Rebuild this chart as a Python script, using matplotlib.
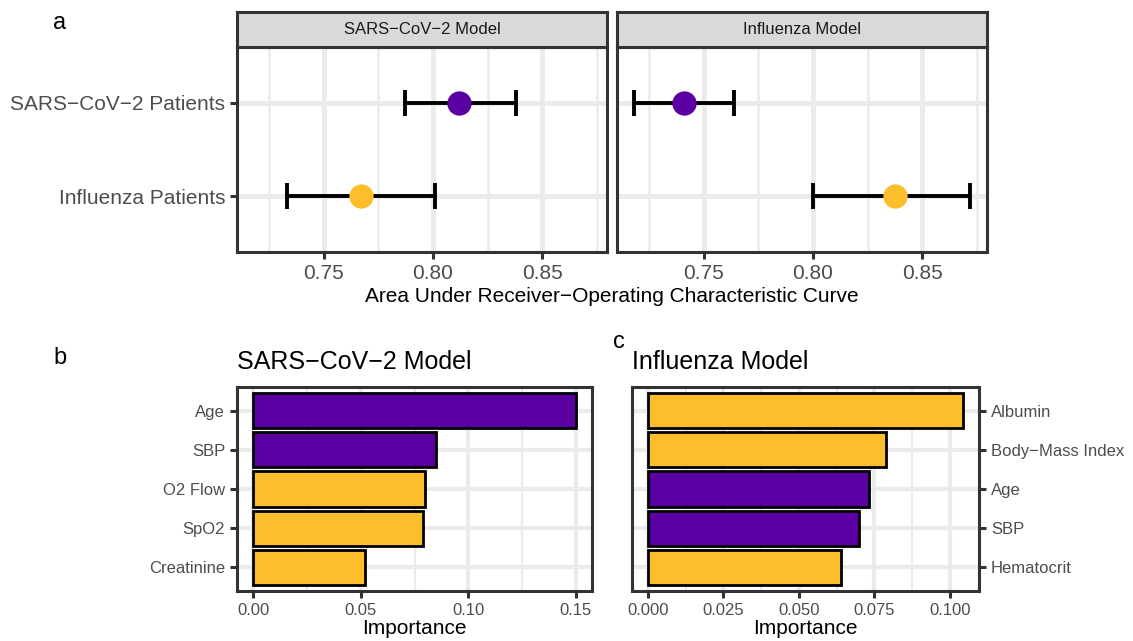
import matplotlib
matplotlib.use("Agg")
import matplotlib.pyplot as plt
import numpy as np

plt.rcParams['font.family'] = ['Liberation Sans', 'DejaVu Sans']

# ---------------- data ----------------
patient_groups = ["SARS\u2212CoV\u22122 Patients", "Influenza Patients"]
model_names = ["SARS\u2212CoV\u22122 Model", "Influenza Model"]
# AUROC per model (rows: patient groups)
auc_sars_model = [0.812, 0.767]
auc_sars_lo = [0.787, 0.733]
auc_sars_hi = [0.838, 0.801]
auc_flu_model = [0.741, 0.8375]
auc_flu_lo = [0.718, 0.800]
auc_flu_hi = [0.764, 0.872]

sars_features = ["Age", "SBP", "O2 Flow", "SpO2", "Creatinine"]
sars_importance = [0.150, 0.0852, 0.0797, 0.0791, 0.0522]
sars_colors_key = ["purple", "purple", "gold", "gold", "gold"]

flu_features = ["Albumin", "Body\u2212Mass Index", "Age", "SBP", "Hematocrit"]
flu_importance = [0.1044, 0.0787, 0.0732, 0.0698, 0.0641]
flu_colors_key = ["gold", "gold", "purple", "purple", "gold"]

PURPLE = "#5A00A3"
GOLD = "#FDBE2C"
cmap = {"purple": PURPLE, "gold": GOLD}
point_colors = [PURPLE, GOLD]

W, H = 1133, 641
fig = plt.figure(figsize=(W / 100, H / 100), dpi=100)

def px_axes(x0, y0, x1, y1):
    return fig.add_axes([x0 / W, 1 - y1 / H, (x1 - x0) / W, (y1 - y0) / H])

BORDER = "#333333"
GRID = "#EBEBEB"
TICKC = "#4D4D4D"

def style_axes(ax):
    for s in ax.spines.values():
        s.set_color(BORDER)
        s.set_linewidth(2.2)
        s.set_zorder(5)
    ax.tick_params(axis='both', colors=BORDER, width=2.2, length=5, labelcolor=TICKC)
    ax.set_axisbelow(True)

# ---------------- panel a ----------------
all_lo = auc_sars_lo + auc_flu_lo
all_hi = auc_sars_hi + auc_flu_hi
rng = max(all_hi) - min(all_lo)
xlim_a = (min(all_lo) - 0.05 * rng, max(all_hi) + 0.05 * rng)
ypos = np.arange(len(patient_groups))[::-1] + 1  # SARS at top

data_sets = [(auc_sars_model, auc_sars_lo, auc_sars_hi), (auc_flu_model, auc_flu_lo, auc_flu_hi)]
for i, ((x0, x1), (vals, lo, hi)) in enumerate(zip([(237, 607), (617, 987)], data_sets)):
    ax = px_axes(x0, 47, x1, 252)
    style_axes(ax)
    ax.set_xlim(*xlim_a)
    ax.set_ylim(0.4, 2.6)
    ax.set_xticks([0.75, 0.80, 0.85])
    ax.set_xticklabels(["0.75", "0.80", "0.85"], fontsize=15)
    ax.set_xticks([0.725, 0.775, 0.825, 0.875], minor=True)
    ax.tick_params(axis='x', which='minor', length=0)
    ax.set_yticks(ypos)
    ax.grid(True, which='major', color=GRID, lw=3.5)
    ax.grid(True, which='minor', axis='x', color=GRID, lw=1.8)
    if i == 0:
        ax.set_yticklabels(patient_groups, fontsize=15)
    else:
        ax.set_yticklabels([])
        ax.tick_params(axis='y', length=0)
    for j in range(len(vals)):
        ax.errorbar([vals[j]], [ypos[j]], xerr=[[vals[j] - lo[j]], [hi[j] - vals[j]]],
                    fmt='none', ecolor='black', elinewidth=2.8, capsize=9.5, capthick=2.8, zorder=3)
        ax.plot([vals[j]], [ypos[j]], 'o', ms=17.5, color=point_colors[j], mec='none', zorder=4)
    # strip
    sax = px_axes(x0, 12, x1, 47)
    sax.set_facecolor("#D9D9D9")
    sax.set_xticks([]); sax.set_yticks([])
    for s in sax.spines.values():
        s.set_color(BORDER); s.set_linewidth(2.2)
    sax.text(0.5, 0.5, model_names[i], ha='center', va='center', fontsize=12,
             color="#1A1A1A", transform=sax.transAxes)

fig.text(612 / W, 1 - 297 / H, "Area Under Receiver\u2212Operating Characteristic Curve",
         ha='center', va='center', fontsize=15, color='black')

# ---------------- panels b and c ----------------
def bar_panel(x0, x1, feats, vals, keys, major, minor, labels, right=False, title=""):
    ax = px_axes(x0, 387, x1, 591)
    style_axes(ax)
    n = len(feats)
    y = np.arange(n)[::-1] + 1
    m = max(vals)
    ax.set_xlim(-0.05 * m, 1.05 * m)
    ax.set_ylim(0.4, n + 0.6)
    ax.set_xticks(major)
    ax.set_xticklabels(labels, fontsize=12)
    ax.set_xticks(minor, minor=True)
    ax.tick_params(axis='x', which='minor', length=0)
    ax.set_yticks(y)
    ax.set_yticklabels(feats, fontsize=12)
    ax.grid(True, which='major', color=GRID, lw=3.0)
    ax.grid(True, which='minor', axis='x', color=GRID, lw=1.5)
    ax.barh(y, vals, height=0.9, color=[cmap[k] for k in keys], edgecolor='black', linewidth=2.0, zorder=3)
    if right:
        ax.yaxis.tick_right()
    ax.set_xlabel("Importance", fontsize=15, color='black', labelpad=1)
    ax.set_title(title, loc='left', fontsize=18, pad=13, color='black')
    return ax

bar_panel(237, 592, sars_features, sars_importance, sars_colors_key,
          [0, 0.05, 0.10, 0.15], [0.025, 0.075, 0.125],
          ["0.00", "0.05", "0.10", "0.15"], title="SARS\u2212CoV\u22122 Model")
bar_panel(632, 979, flu_features, flu_importance, flu_colors_key,
          [0, 0.025, 0.05, 0.075, 0.10], [0.0125, 0.0375, 0.0625, 0.0875],
          ["0.000", "0.025", "0.050", "0.075", "0.100"], right=True, title="Influenza Model")

fig.text(60 / W, 1 - 23 / H, "a", fontsize=17, ha='center', va='center')
fig.text(60 / W, 1 - 358 / H, "b", fontsize=17, ha='center', va='center')
fig.text(619 / W, 1 - 342 / H, "c", fontsize=17, ha='center', va='center')

fig.savefig("out.png", dpi=100)
